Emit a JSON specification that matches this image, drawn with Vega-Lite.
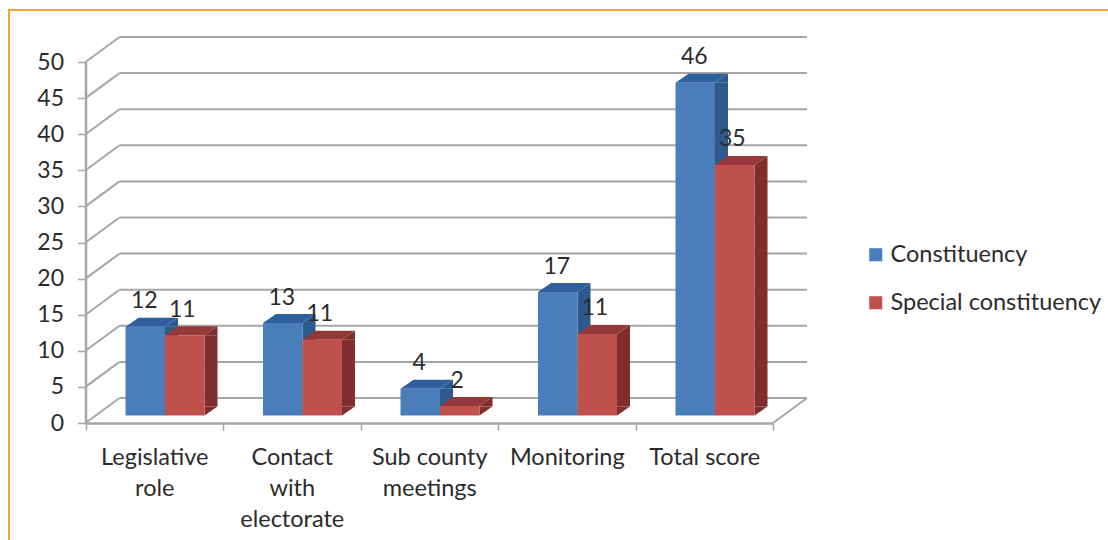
{
"$schema":"https://vega.github.io/schema/vega-lite/v6.json",
"autosize":"none","width":1103,"height":534,
"padding":{"left":9,"top":10,"right":-4,"bottom":-4},
"background":"white",
"view":{"stroke":"#f7a33a","strokeWidth":2},
"config":{"text":{"font":"Lato"},"axis":{"labelFont":"Lato"},"legend":{"labelFont":"Lato"},
 "axisY":{"offset":-76.5,"grid":false,"tickCount":10,"domainColor":"#a6a6a6","domainWidth":2.5,"tickColor":"#a6a6a6","tickWidth":1.5,"tickSize":8,"labelFontSize":23,"labelColor":"#2b2b2b","labelPadding":14}},
"datasets":{
"bars":[
{"category":"Legislative role","series":"Constituency","value":12.3,"label":12},
{"category":"Legislative role","series":"Special constituency","value":11.1,"label":11},
{"category":"Contact with electorate","series":"Constituency","value":12.8,"label":13},
{"category":"Contact with electorate","series":"Special constituency","value":10.5,"label":11},
{"category":"Sub county meetings","series":"Constituency","value":3.7,"label":4},
{"category":"Sub county meetings","series":"Special constituency","value":1.3,"label":2},
{"category":"Monitoring","series":"Constituency","value":17.1,"label":17},
{"category":"Monitoring","series":"Special constituency","value":11.3,"label":11},
{"category":"Total score","series":"Constituency","value":46.1,"label":46},
{"category":"Total score","series":"Special constituency","value":34.7,"label":35}
],
"ticks":[{"tick":0},{"tick":5},{"tick":10},{"tick":15},{"tick":20},{"tick":25},{"tick":30},{"tick":35},{"tick":40},{"tick":45},{"tick":50}]
},
"resolve":{"scale":{"x":"independent"}},
"layer":[
{"data":{"name":"ticks"},
 "encoding":{
  "x":{"datum":0,"type":"quantitative","scale":{"domain":[0,5],"range":[76.5,764]},"axis":null},
  "y":{"field":"tick","type":"quantitative","title":null,"scale":{"domain":[0,50],"range":[413,52]}}
 },
 "layer":[
  {"mark":{"type":"rule","color":"#a6a6a6","strokeWidth":2,"xOffset":34,"x2Offset":34,"yOffset":-25,"y2Offset":-25},
   "encoding":{"x2":{"datum":5},"y2":{"field":"tick"}}},
  {"mark":{"type":"rule","color":"#a6a6a6","strokeWidth":2,"xOffset":0,"x2Offset":34,"yOffset":0,"y2Offset":-25},
   "encoding":{"x2":{"datum":0},"y2":{"field":"tick"}}},
  {"transform":[{"filter":{"field":"tick","equal":0}}],
   "mark":{"type":"rule","color":"#a6a6a6","strokeWidth":2,"xOffset":0,"x2Offset":34,"yOffset":0,"y2Offset":-25},
   "encoding":{"x":{"datum":5,"type":"quantitative","scale":{"domain":[0,5],"range":[76.5,764]},"axis":null},"x2":{"datum":5},"y2":{"field":"tick"}}}
 ]},
{"data":{"name":"bars"},
 "encoding":{
  "x":{"field":"category","type":"nominal","title":null,
   "scale":{"type":"band","domain":["Legislative role","Contact with electorate","Sub county meetings","Monitoring","Total score"],"range":[76.5,764],"paddingInner":0,"paddingOuter":0},
   "axis":{"offset":-121,"domainColor":"#a6a6a6","domainWidth":2.5,"tickColor":"#a6a6a6","tickWidth":1.5,"tickSize":7,"tickBand":"extent","labelAngle":0,"labelFontSize":23.5,"labelColor":"#2b2b2b","labelPadding":15,"labelLineHeight":31,"labelLimit":200,
    "labelExpr":"datum.label=='Legislative role'?['Legislative','role']:datum.label=='Contact with electorate'?['Contact','with','electorate']:datum.label=='Sub county meetings'?['Sub county','meetings']:datum.label"}},
  "y":{"field":"value","type":"quantitative","title":null}
 },
 "layer":[
  {"transform":[{"filter":{"field":"series","equal":"Constituency"}}],
   "layer":[
    {"mark":{"type":"bar","size":13,"color":"#2c5a8f","xOffset":17.25,"yOffset":-7.5,"y2Offset":-16.5},"encoding":{"y2":{"datum":0}}},
    {"mark":{"type":"point","filled":true,"opacity":1,"strokeWidth":0,"size":4,"color":"#2c5a8f","shape":"M0,0L13,0L13,-9Z","xOffset":10.75,"yOffset":-7.5}},
    {"mark":{"type":"point","filled":true,"opacity":1,"strokeWidth":0,"size":4,"color":"#2c5a8f","shape":"M0,0L0,-9L13,-9Z","xOffset":10.75,"yOffset":-7.5},"encoding":{"y":{"datum":0,"type":"quantitative","title":null}}},
    {"mark":{"type":"point","filled":true,"opacity":1,"strokeWidth":0,"size":4,"color":"#2f5f9c","shape":"M0,0L39.5,0L52.5,-9L13,-9Z","xOffset":-28.75,"yOffset":-7.5}},
    {"mark":{"type":"bar","size":39.5,"xOffset":-9,"yOffset":-7.5,"y2Offset":-7.5},
     "encoding":{"y2":{"datum":0},"color":{"field":"series","type":"nominal","scale":{"domain":["Constituency","Special constituency"],"range":["#4a7ebb","#c0504d"]},
      "legend":{"orient":"none","legendX":855,"legendY":233,"title":null,"symbolType":"square","symbolSize":170,"symbolStrokeWidth":0,"labelFontSize":23.5,"labelColor":"#2b2b2b","rowPadding":23,"labelOffset":3,"labelLimit":300}}}}
   ]},
  {"transform":[{"filter":{"field":"series","equal":"Special constituency"}}],
   "layer":[
    {"mark":{"type":"bar","size":13,"color":"#7f2e2c","xOffset":56.75,"yOffset":-7.5,"y2Offset":-16.5},"encoding":{"y2":{"datum":0}}},
    {"mark":{"type":"point","filled":true,"opacity":1,"strokeWidth":0,"size":4,"color":"#7f2e2c","shape":"M0,0L13,0L13,-9Z","xOffset":50.25,"yOffset":-7.5}},
    {"mark":{"type":"point","filled":true,"opacity":1,"strokeWidth":0,"size":4,"color":"#7f2e2c","shape":"M0,0L0,-9L13,-9Z","xOffset":50.25,"yOffset":-7.5},"encoding":{"y":{"datum":0,"type":"quantitative","title":null}}},
    {"mark":{"type":"point","filled":true,"opacity":1,"strokeWidth":0,"size":4,"color":"#95383a","shape":"M0,0L39.5,0L52.5,-9L13,-9Z","xOffset":10.75,"yOffset":-7.5}},
    {"mark":{"type":"bar","size":39.5,"xOffset":30.5,"yOffset":-7.5,"y2Offset":-7.5},
     "encoding":{"y2":{"datum":0},"color":{"field":"series","type":"nominal"}}}
   ]},
  {"transform":[{"filter":{"field":"series","equal":"Constituency"}}],
   "mark":{"type":"text","fontSize":23,"color":"#2b2b2b","baseline":"middle","xOffset":-10,"yOffset":-33},
   "encoding":{"text":{"field":"label","type":"quantitative"}}},
  {"transform":[{"filter":{"field":"series","equal":"Special constituency"}}],
   "mark":{"type":"text","fontSize":23,"color":"#2b2b2b","baseline":"middle","xOffset":28,"yOffset":-33},
   "encoding":{"text":{"field":"label","type":"quantitative"}}}
 ]}
]
}
